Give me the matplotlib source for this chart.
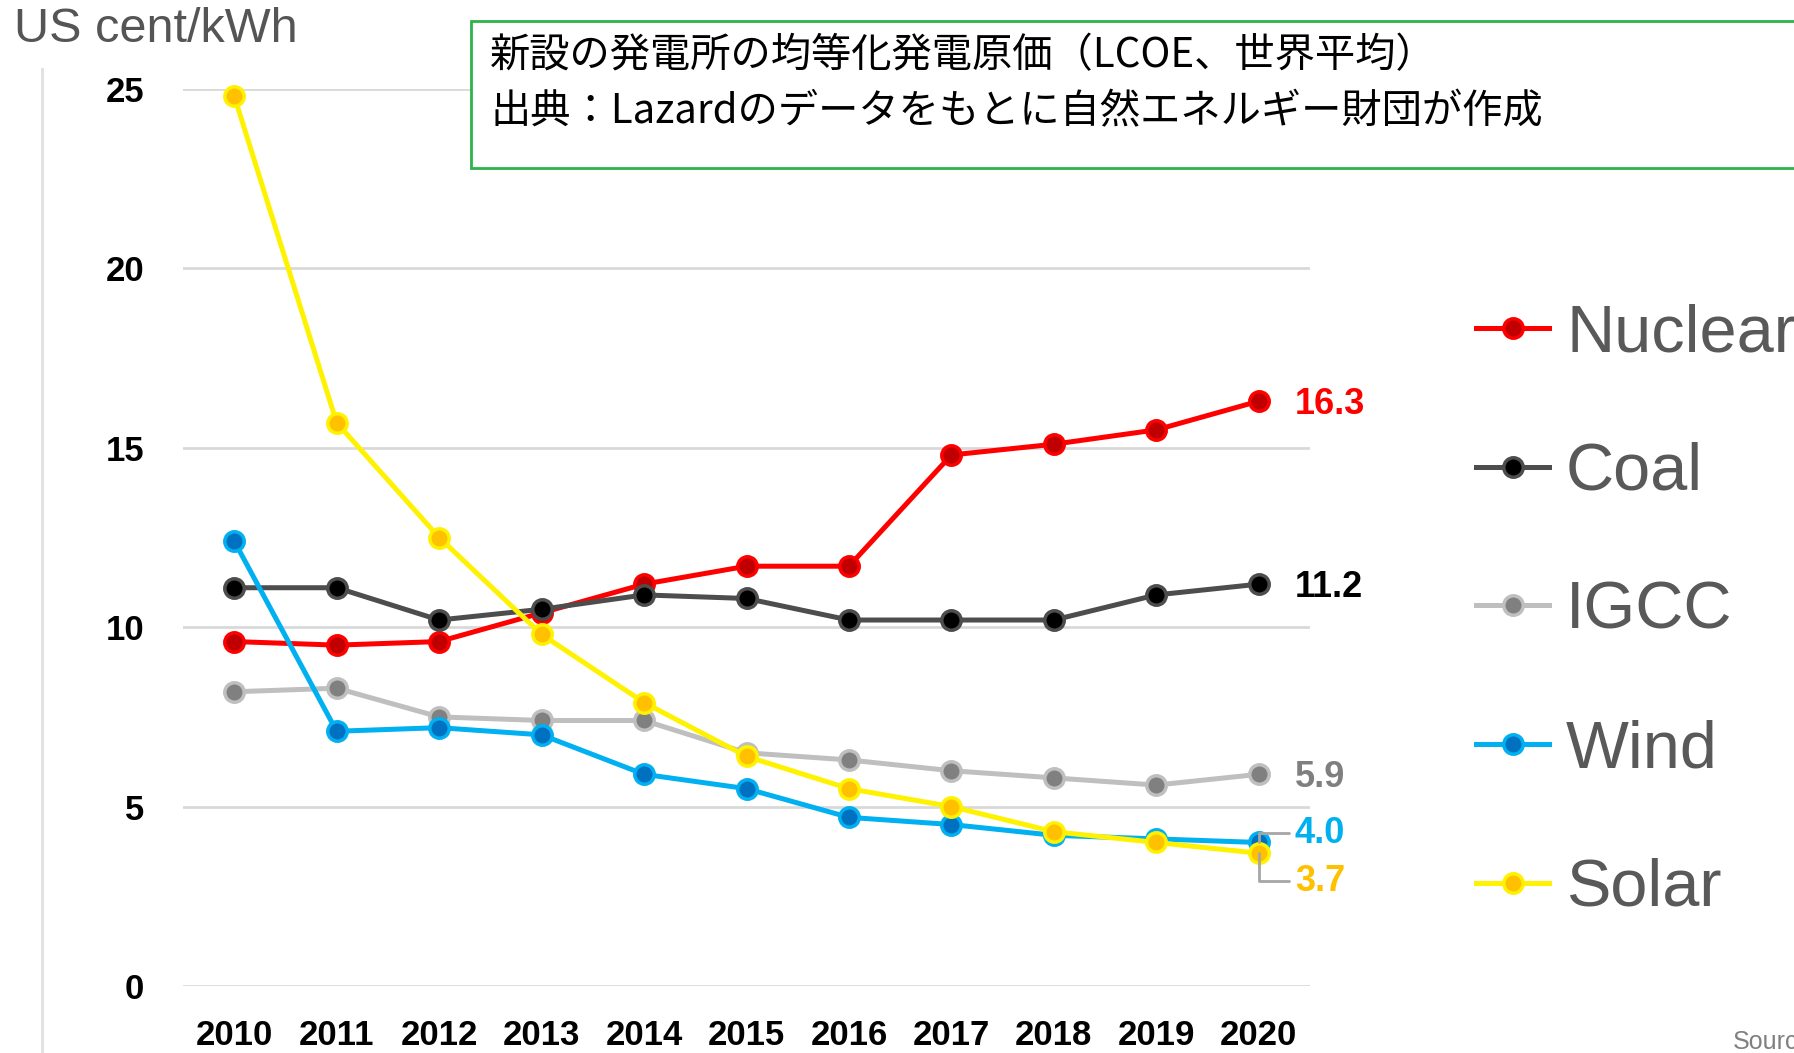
import matplotlib
matplotlib.use("Agg")
import matplotlib.pyplot as plt
from matplotlib.patches import Rectangle
from matplotlib.lines import Line2D

years = ["2010", "2011", "2012", "2013", "2014", "2015", "2016", "2017", "2018", "2019", "2020"]
nuclear = [9.6, 9.5, 9.6, 10.4, 11.2, 11.7, 11.7, 14.8, 15.1, 15.5, 16.3]
coal = [11.1, 11.1, 10.2, 10.5, 10.9, 10.8, 10.2, 10.2, 10.2, 10.9, 11.2]
igcc = [8.2, 8.3, 7.5, 7.4, 7.4, 6.5, 6.3, 6.0, 5.8, 5.6, 5.9]
wind = [12.4, 7.1, 7.2, 7.0, 5.9, 5.5, 4.7, 4.5, 4.2, 4.1, 4.0]
solar = [24.8, 15.7, 12.5, 9.8, 7.9, 6.4, 5.5, 5.0, 4.3, 4.0, 3.7]

# name, values, line colour, marker face, label colour
series = [
    ("Nuclear", nuclear, "#FF0000", "#C00000", "#FF0000"),
    ("Coal", coal, "#4D4D4D", "#000000", "#000000"),
    ("IGCC", igcc, "#BFBFBF", "#808080", "#7F7F7F"),
    ("Wind", wind, "#00B0F0", "#0070C0", "#00B0F0"),
    ("Solar", solar, "#FFF200", "#FFC000", "#FFC000"),
]

W, H = 1794, 1053
fig = plt.figure(figsize=(W / 100, H / 100), dpi=100)
ax = fig.add_axes([183 / W, 67 / H, 1127 / W, 897 / H])

x = list(range(len(years)))
handles = []
for name, vals, lc, fc, tc in series:
    h, = ax.plot(x, vals, color=lc, lw=3.6, marker="o", ms=14,
                 mfc=fc, mec=lc, mew=2.5, clip_on=False, label=name, zorder=3)
    handles.append(h)

# end-of-line value labels
bold = dict(fontsize=26, fontweight="bold", family="Liberation Sans", va="center", ha="left")
for name, vals, lc, fc, tc in series[:3]:
    ax.annotate(f"{vals[-1]:.1f}", (x[-1], vals[-1]), xytext=(36, -3),
                textcoords="offset pixels", color=tc, **bold)
leader = dict(arrowstyle="-", color="#A6A6A6", lw=2,
              connectionstyle="angle,angleA=0,angleB=90,rad=0", shrinkA=2, shrinkB=0)
ax.annotate(f"{wind[-1]:.1f}", (x[-1], wind[-1]), xytext=(36, 9),
            textcoords="offset pixels", color="#00B0F0", arrowprops=leader, **bold)
ax.annotate(f"{solar[-1]:.1f}", (x[-1], solar[-1]), xytext=(36, -28),
            textcoords="offset pixels", color="#FFC000", arrowprops=leader, **bold)

ax.set_xlim(-0.5, len(years) - 0.5)
ax.set_ylim(0, 25)
ax.set_yticks([0, 5, 10, 15, 20, 25])
ax.set_xticks(x)
ax.set_xticklabels(years)
ax.grid(axis="y", color="#D9D9D9", lw=2)
ax.set_axisbelow(True)
for s in ax.spines.values():
    s.set_visible(False)
ax.tick_params(length=0, labelsize=25)
ax.tick_params(axis="y", pad=28)
ax.tick_params(axis="x", pad=24)
for lab in ax.get_xticklabels() + ax.get_yticklabels():
    lab.set_fontweight("bold")
    lab.set_family("Liberation Sans")

fig.legend(handles=handles, loc="upper left", bbox_to_anchor=(1476 / W, 0.712),
           frameon=False, borderpad=0, borderaxespad=0, handlelength=1.1,
           handletextpad=0.25, labelspacing=1.15,
           prop={"family": "Liberation Sans", "size": 48}, labelcolor="#595959")

fig.text(14 / W, 1 - 29 / H, "US cent/kWh", fontsize=35, color="#555555",
         family="Liberation Sans", va="center", ha="left")

# left guide line
fig.add_artist(Line2D([42 / W, 42 / W], [0, 1 - 69 / H], color="#E0E0E0", lw=2))

# caption box
fig.add_artist(Rectangle((471 / W, 1 - 168 / H), 1400 / W, 147 / H,
                         transform=fig.transFigure, fc="white", ec="#2DB34A", lw=2))
cjk = ["Noto Sans CJK JP", "DejaVu Sans"]
fig.text(490 / W, 1 - 56 / H, "新設の発電所の均等化発電原価（LCOE、世界平均）",
         fontsize=29, family=cjk, va="center", zorder=5)
fig.text(490 / W, 1 - 112 / H, "出典：Lazardのデータをもとに自然エネルギー財団が作成",
         fontsize=29, family=cjk, va="center", zorder=5)

fig.text(1733 / W, 1 - 1030 / H, "Source", fontsize=18, color="#808080",
         family="Liberation Sans", va="top", ha="left")

fig.savefig("out.png", dpi=100)
